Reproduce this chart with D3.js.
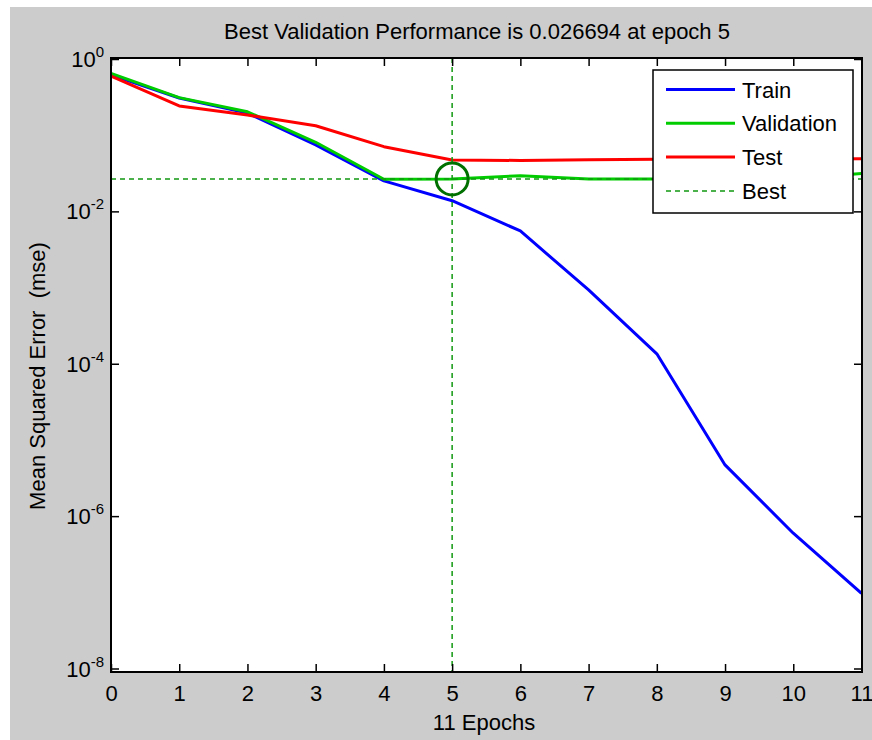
<!DOCTYPE html>
<html>
<head>
<meta charset="utf-8">
<script src="https://cdn.jsdelivr.net/npm/d3@7"></script>
<style>
  body { margin: 0; background: #fff; }
  text { font-family: "Liberation Sans", Arial, sans-serif; fill: #000; }
</style>
</head>
<body>
<svg id="chart" width="872" height="740"></svg>
<script>
// epochs on the x axis
var epochs = [0, 1, 2, 3, 4, 5, 6, 7, 8, 9, 10, 11];

// mse per epoch
var trainMse = [0.617, 0.308, 0.195, 0.0744, 0.0251, 0.0138, 0.00553, 9.3e-4, 1.35e-4, 4.7e-6, 5.97e-7, 9.7e-8];
var validationMse = [0.649, 0.311, 0.203, 0.0807, 0.0264, 0.026694, 0.0294, 0.0266, 0.0266, 0.0266, 0.0268, 0.0314];
var testMse = [0.598, 0.242, 0.184, 0.133, 0.0707, 0.0473, 0.0466, 0.0477, 0.0483, 0.0487, 0.0487, 0.049];

var bestEpoch = 5;
var bestPerf = 0.026694;

var yTicks = [1, 1e-2, 1e-4, 1e-6, 1e-8];
var yTickExp = ['0', '-2', '-4', '-6', '-8'];

var series = [
  { name: 'Train', values: trainMse, color: '#0000ff' },
  { name: 'Validation', values: validationMse, color: '#00cc00' },
  { name: 'Test', values: testMse, color: '#ff0000' }
];

var box = { left: 111, right: 862, top: 58, bottom: 672 };
var fontSize = 22;

var svg = d3.select('#chart');

// figure background
svg.append('rect')
  .attr('x', 10).attr('y', 7)
  .attr('width', 862).attr('height', 733)
  .attr('fill', '#cccccc');

svg.append('rect')
  .attr('x', box.left).attr('y', box.top)
  .attr('width', box.right - box.left).attr('height', box.bottom - box.top)
  .attr('fill', '#ffffff');

var x = d3.scaleLinear().domain([0, 11]).range([box.left, 861.5]);
var y = d3.scaleLog().domain([1e-8, 1]).range([668.5, 59]);

svg.append('clipPath').attr('id', 'plotclip')
  .append('rect')
  .attr('x', box.left).attr('y', box.top)
  .attr('width', box.right - box.left).attr('height', box.bottom - box.top);

var plot = svg.append('g').attr('clip-path', 'url(#plotclip)');

var line = d3.line()
  .x(function (d, i) { return x(epochs[i]); })
  .y(function (d) { return y(d); });

series.forEach(function (s) {
  plot.append('path')
    .datum(s.values)
    .attr('d', line)
    .attr('fill', 'none')
    .attr('stroke', s.color)
    .attr('stroke-width', 3)
    .attr('stroke-linejoin', 'round');
});

// best markers
plot.append('line')
  .attr('x1', x(bestEpoch)).attr('x2', x(bestEpoch))
  .attr('y1', box.top).attr('y2', box.bottom)
  .attr('stroke', '#119911').attr('stroke-width', 1.5)
  .attr('stroke-dasharray', '5,4');

plot.append('line')
  .attr('x1', box.left).attr('x2', box.right)
  .attr('y1', y(bestPerf)).attr('y2', y(bestPerf))
  .attr('stroke', '#119911').attr('stroke-width', 1.5)
  .attr('stroke-dasharray', '5,4');

plot.append('circle')
  .attr('cx', x(bestEpoch)).attr('cy', y(bestPerf))
  .attr('r', 16)
  .attr('fill', 'none')
  .attr('stroke', '#007000').attr('stroke-width', 3);

// axes, ticks point inward
var xBottom = svg.append('g')
  .attr('transform', 'translate(0,' + box.bottom + ')')
  .call(d3.axisBottom(x).tickValues(epochs).tickSize(-8).tickPadding(13).tickFormat(d3.format('d')));

svg.append('g')
  .attr('transform', 'translate(0,' + box.top + ')')
  .call(d3.axisTop(x).tickValues(epochs).tickSize(-8).tickFormat(''));

svg.append('g')
  .attr('transform', 'translate(' + box.left + ',0)')
  .call(d3.axisLeft(y).tickValues(yTicks).tickSize(-8).tickFormat(''));

svg.append('g')
  .attr('transform', 'translate(' + box.right + ',0)')
  .call(d3.axisRight(y).tickValues(yTicks).tickSize(-8).tickFormat(''));

svg.selectAll('.domain').remove();
svg.selectAll('.tick line').attr('stroke', '#000').attr('stroke-width', 1.5);
xBottom.selectAll('text')
  .attr('font-size', fontSize)
  .style('font-family', '"Liberation Sans", Arial, sans-serif')
  .attr('fill', '#000');

// y tick labels as 10^k
yTicks.forEach(function (v, i) {
  var t = svg.append('text')
    .attr('x', box.left - 7)
    .attr('y', y(v) + 8)
    .attr('text-anchor', 'end')
    .attr('font-size', fontSize);
  t.append('tspan').text('10');
  t.append('tspan').attr('dy', -10).attr('font-size', 15).text(yTickExp[i]);
});

svg.append('rect')
  .attr('x', box.left).attr('y', box.top)
  .attr('width', box.right - box.left).attr('height', box.bottom - box.top)
  .attr('fill', 'none')
  .attr('stroke', '#000').attr('stroke-width', 2);

// titles
svg.append('text')
  .attr('x', 477).attr('y', 39)
  .attr('text-anchor', 'middle')
  .attr('font-size', fontSize)
  .text('Best Validation Performance is ' + bestPerf + ' at epoch ' + bestEpoch);

svg.append('text')
  .attr('x', 484).attr('y', 730)
  .attr('text-anchor', 'middle')
  .attr('font-size', fontSize)
  .text(epochs.length - 1 + ' Epochs');

svg.append('text')
  .attr('transform', 'translate(45,376) rotate(-90)')
  .attr('text-anchor', 'middle')
  .attr('font-size', fontSize)
  .style('white-space', 'pre')
  .text('Mean Squared Error  (mse)');

// legend
var legend = svg.append('g').attr('transform', 'translate(653,70)');

legend.append('rect')
  .attr('width', 200).attr('height', 143)
  .attr('fill', '#fff')
  .attr('stroke', '#000').attr('stroke-width', 1.5);

var legendItems = series.map(function (s) {
  return { name: s.name, color: s.color, dash: null, width: 3 };
});
legendItems.push({ name: 'Best', color: '#119911', dash: '5,4', width: 1.5 });

var rows = legend.selectAll('g.item')
  .data(legendItems)
  .enter().append('g')
    .attr('class', 'item')
    .attr('transform', function (d, i) { return 'translate(0,' + (19.5 + i * 33.8) + ')'; });

rows.append('line')
  .attr('x1', 13).attr('x2', 82)
  .attr('stroke', function (d) { return d.color; })
  .attr('stroke-width', function (d) { return d.width; })
  .attr('stroke-dasharray', function (d) { return d.dash; });

rows.append('text')
  .attr('x', 89).attr('y', 8)
  .attr('font-size', fontSize)
  .text(function (d) { return d.name; });
</script>
</body>
</html>
